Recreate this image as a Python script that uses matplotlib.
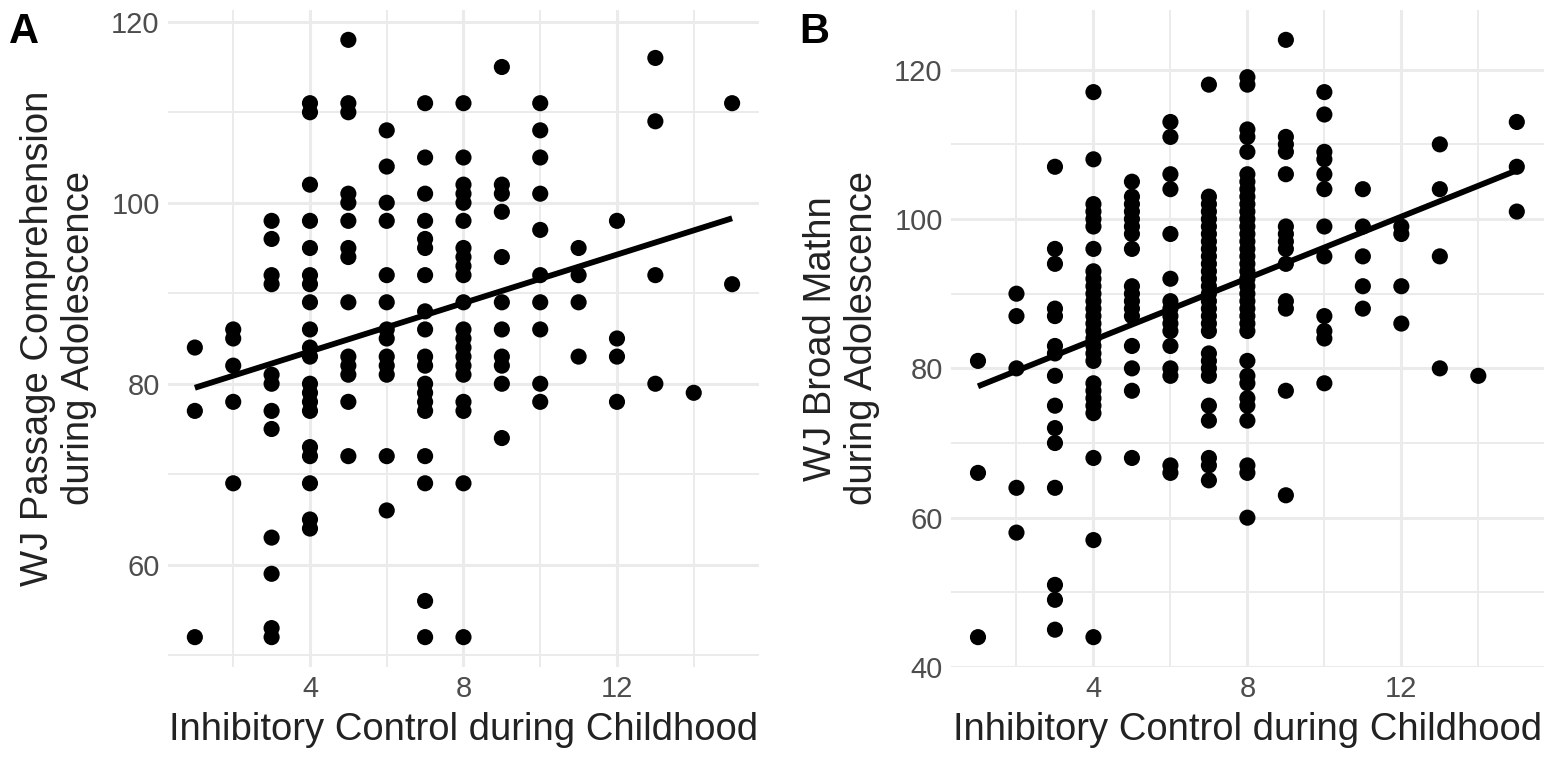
import numpy as np
import matplotlib
matplotlib.use("Agg")
import matplotlib.pyplot as plt

plt.rcParams['font.family'] = ['Liberation Sans', 'DejaVu Sans']

# Panel A: WJ Passage Comprehension by Inhibitory Control score
a_x_levels = [1, 2, 3, 4, 5, 6, 7, 8, 9, 10, 11, 12, 13, 14, 15]
a_y_values = [
    [84, 77, 52],
    [86, 85, 82, 78, 69],
    [98, 96, 92, 91, 81, 80, 77, 75, 63, 59, 53, 52],
    [111, 110, 102, 98, 95, 92, 91, 89, 86, 84, 83, 80, 79, 78, 77, 73, 72, 69, 65, 64],
    [118, 111, 110, 101, 100, 98, 95, 94, 89, 83, 82, 81, 78, 72],
    [108, 104, 100, 98, 92, 89, 86, 85, 83, 82, 81, 72, 66],
    [111, 105, 101, 98, 96, 95, 92, 88, 86, 83, 82, 80, 79, 78, 77, 72, 69, 56, 52],
    [111, 105, 102, 101, 100, 98, 95, 94, 93, 92, 89, 86, 85, 84, 83, 82, 81, 78, 77, 69, 52],
    [115, 102, 101, 99, 94, 89, 86, 83, 82, 80, 74],
    [111, 108, 105, 101, 97, 92, 89, 86, 80, 78],
    [95, 92, 89, 83],
    [98, 85, 83, 78],
    [116, 109, 92, 80],
    [79],
    [111, 91],
]

# Panel B: WJ Broad Math by Inhibitory Control score
b_x_levels = [1, 2, 3, 4, 5, 6, 7, 8, 9, 10, 11, 12, 13, 14, 15]
b_y_values = [
    [81, 66, 44],
    [90, 87, 80, 64, 58],
    [107, 96, 94, 88, 87, 83, 82, 79, 75, 72, 70, 64, 51, 49, 45],
    [117, 108, 102, 101, 100, 99, 96, 93, 92, 91, 90, 89, 88, 87, 86, 85, 84, 83, 82, 81,
     78, 77, 76, 75, 74, 68, 57, 44],
    [105, 103, 102, 101, 100, 99, 98, 96, 91, 90, 89, 88, 87, 83, 80, 77, 68],
    [113, 111, 106, 104, 98, 92, 89, 88, 87, 86, 85, 83, 80, 79, 67, 66],
    [118, 103, 102, 101, 100, 99, 98, 97, 96, 95, 94, 93, 92, 91, 90, 89, 88, 87, 86, 85,
     82, 81, 80, 79, 75, 73, 68, 67, 65],
    [119, 118, 112, 111, 109, 106, 105, 104, 103, 102, 101, 100, 99, 98, 97, 96, 95, 94, 93,
     92, 91, 90, 89, 88, 87, 86, 85, 81, 79, 78, 76, 75, 73, 67, 66, 60],
    [124, 111, 110, 109, 106, 99, 98, 97, 96, 94, 89, 88, 77, 63],
    [117, 114, 109, 108, 106, 104, 99, 95, 87, 85, 84, 78],
    [104, 99, 95, 91, 88],
    [99, 98, 91, 86],
    [110, 104, 95, 80],
    [79],
    [113, 107, 101],
]

x_label = "Inhibitory Control during Childhood"
a_ylabel = "WJ Passage Comprehension\nduring Adolescence"
b_ylabel = "WJ Broad Mathn\nduring Adolescence"
x_ticks = [4, 8, 12]
a_yticks = [60, 80, 100, 120]
b_yticks = [40, 60, 80, 100, 120]


def flatten(levels, groups):
    xs, ys = [], []
    for lv, g in zip(levels, groups):
        xs.extend([lv] * len(g))
        ys.extend(g)
    return np.array(xs, float), np.array(ys, float)


fig = plt.figure(figsize=(15.54, 7.68), dpi=100)
axA = fig.add_axes([0.1081, 0.1315, 0.3803, 0.8555])
axB = fig.add_axes([0.6120, 0.1315, 0.3814, 0.8555])

grid_c = "#EBEBEB"


def style(ax, xs, ys, yticks, ylim, minor_y, ylabel):
    ax.scatter(xs, ys, s=135, color="black", edgecolors="none", zorder=3)
    k, b = np.polyfit(xs, ys, 1)
    lx = np.array([xs.min(), xs.max()])
    ax.plot(lx, k * lx + b, color="black", lw=4.2, zorder=4, solid_capstyle="butt")
    ax.set_xlim(0.3, 15.7)
    ax.set_ylim(*ylim)
    ax.set_xticks(x_ticks)
    ax.set_xticks([2, 6, 10, 14], minor=True)
    ax.set_yticks(yticks)
    ax.set_yticks(minor_y, minor=True)
    ax.grid(True, which="major", color=grid_c, lw=2.2, zorder=0)
    ax.grid(True, which="minor", color=grid_c, lw=1.4, zorder=0)
    ax.set_axisbelow(True)
    for s in ax.spines.values():
        s.set_visible(False)
    ax.tick_params(which="both", length=0, labelsize=21, colors="#4D4D4D", pad=6)
    ax.set_xlabel(x_label, fontsize=27.5, color="#222222", labelpad=6)
    ax.set_ylabel(ylabel, fontsize=27.5, color="#222222", labelpad=10)


xa, ya = flatten(a_x_levels, a_y_values)
xb, yb = flatten(b_x_levels, b_y_values)
style(axA, xa, ya, a_yticks, (48.7, 121.3), [50, 70, 90, 110], a_ylabel)
style(axB, xb, yb, b_yticks, (40, 128), [50, 70, 90, 110], b_ylabel)

fig.text(0.006, 0.985, "A", fontsize=30, fontweight="bold", va="top", ha="left")
fig.text(0.514, 0.985, "B", fontsize=30, fontweight="bold", va="top", ha="left")

fig.savefig("out.png", dpi=100, facecolor="white")
